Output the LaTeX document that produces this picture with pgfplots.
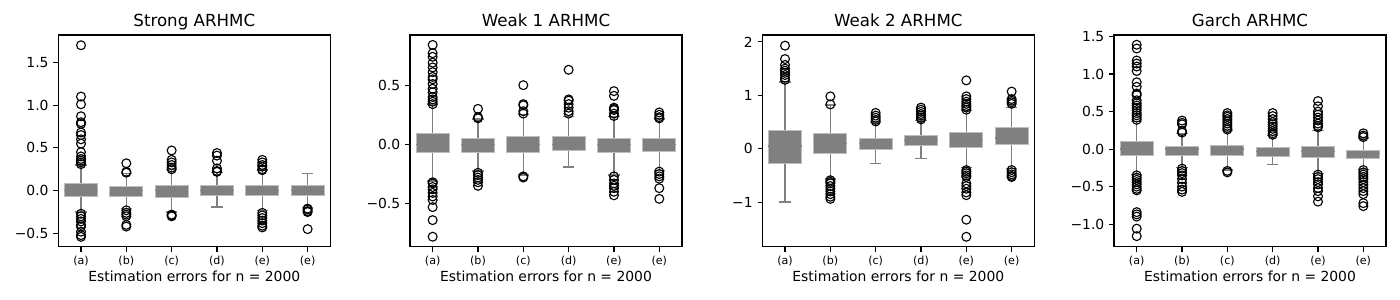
\documentclass[border=0pt]{standalone}
\usepackage{fontspec}
\setmainfont{DejaVu Sans}
\usepackage{pgfplots}
\pgfplotsset{compat=1.18}
\usepgfplotslibrary{statistics}
\definecolor{bxgray}{HTML}{808080}
\definecolor{bxedge}{HTML}{BDBDBD}
\pgfplotsset{
  panel/.style={
    scale only axis, width=195.8pt, height=152.4pt,
    anchor=south west,
    xmin=-0.5, xmax=5.5,
    xtick={0,1,2,3,4,5},
    xticklabels={(a),(b),(c),(d),(e),(e)},
    xtick pos=bottom, ytick pos=left,
    tick align=outside, major tick length=3.5pt,
    tick style={black, line width=0.8pt},
    axis line style={black, line width=0.8pt},
    xticklabel style={font=\fontsize{8}{9}\selectfont},
    yticklabel style={font=\fontsize{10}{12}\selectfont},
    title style={font=\fontsize{12}{14}\selectfont, at={(0.5,1)}, anchor=base, yshift=0pt},
    xlabel style={font=\fontsize{10}{12}\selectfont, at={(axis description cs:0.5,0)}, anchor=base, yshift=-25.2pt},
    xlabel={Estimation errors for n = 2000},
    boxplot/draw direction=y,
    boxplot/box extend=0.73,
    boxplot/whisker extend=0.25,
    clip=false,
  },
  bx/.style={fill=bxgray, draw=bxedge, line width=0.6pt,
    boxplot/every whisker/.style={draw=bxgray, line width=1pt},
    boxplot/every median/.style={draw=bxgray, line width=1pt},
    mark=none},
  out/.style={only marks, mark=o, mark size=3.2pt, mark options={draw=black, line width=0.8pt, fill=none}},
}
\newcommand{\bx}[6]{\addplot[bx, boxplot prepared={draw position=#1, lower whisker=#2, lower quartile=#3, median=#4, upper quartile=#5, upper whisker=#6}] coordinates {};}
\begin{document}
\begin{tikzpicture}
\path[use as bounding box] (0,0) rectangle (1008pt,216pt);
% ---------------- Panel 1
\begin{axis}[panel, at={(42pt,38.4pt)}, title={Strong ARHMC},
  ymin=-0.655, ymax=1.82,
  ytick={-0.5,0,0.5,1,1.5}, yticklabels={−0.5,0.0,0.5,1.0,1.5}]
\bx{0}{-0.25}{-0.063}{0}{0.082}{0.30}
\bx{1}{-0.21}{-0.062}{0}{0.047}{0.20}
\bx{2}{-0.25}{-0.075}{0}{0.06}{0.245}
\bx{3}{-0.19}{-0.05}{0}{0.06}{0.21}
\bx{4}{-0.23}{-0.06}{0}{0.06}{0.24}
\bx{5}{-0.20}{-0.05}{0}{0.06}{0.20}
\addplot[out] coordinates {
(0,1.70) (0,1.10) (0,1.01) (0,0.87) (0,0.80) (0,0.78) (0,0.68) (0,0.65) (0,0.60) (0,0.55)
(0,0.45) (0,0.40) (0,0.37) (0,0.35) (0,0.33) (0,0.31)
(0,-0.27) (0,-0.30) (0,-0.33) (0,-0.36) (0,-0.40) (0,-0.42) (0,-0.48) (0,-0.52) (0,-0.54)
(1,0.32) (1,0.22) (1,0.21) (1,-0.23) (1,-0.26) (1,-0.28) (1,-0.30) (1,-0.40) (1,-0.42)
(2,0.47) (2,0.36) (2,0.33) (2,0.30) (2,0.27) (2,0.25) (2,-0.28) (2,-0.29) (2,-0.30)
(3,0.44) (3,0.41) (3,0.35) (3,0.26) (3,0.23) (3,0.22)
(4,0.36) (4,0.33) (4,0.30) (4,0.28) (4,0.25) (4,0.24)
(4,-0.26) (4,-0.29) (4,-0.32) (4,-0.35) (4,-0.38) (4,-0.41) (4,-0.43)
(5,-0.21) (5,-0.22) (5,-0.24) (5,-0.25) (5,-0.45)
};
\end{axis}
% ---------------- Panel 2
\begin{axis}[panel, at={(295.2pt,38.4pt)}, title={Weak 1 ARHMC},
  ymin=-0.864, ymax=0.924,
  ytick={-0.5,0,0.5}, yticklabels={−0.5,0.0,0.5}]
\bx{0}{-0.31}{-0.071}{0}{0.093}{0.34}
\bx{1}{-0.226}{-0.071}{0}{0.054}{0.215}
\bx{2}{-0.26}{-0.071}{0}{0.065}{0.254}
\bx{3}{-0.192}{-0.054}{0}{0.065}{0.237}
\bx{4}{-0.26}{-0.071}{0}{0.054}{0.237}
\bx{5}{-0.22}{-0.062}{0}{0.054}{0.215}
\addplot[out] coordinates {
(0,0.84) (0,0.77) (0,0.74) (0,0.69) (0,0.65) (0,0.61) (0,0.57) (0,0.55) (0,0.51) (0,0.47)
(0,0.44) (0,0.40) (0,0.38) (0,0.36) (0,0.34)
(0,-0.32) (0,-0.33) (0,-0.36) (0,-0.38) (0,-0.41) (0,-0.44) (0,-0.47) (0,-0.53) (0,-0.64) (0,-0.78)
(1,0.30) (1,0.23) (1,0.22) (1,-0.24) (1,-0.26) (1,-0.28) (1,-0.30) (1,-0.32) (1,-0.35)
(2,0.50) (2,0.34) (2,0.33) (2,0.28) (2,0.26) (2,-0.27) (2,-0.28)
(3,0.63) (3,0.38) (3,0.37) (3,0.34) (3,0.31) (3,0.28) (3,0.26)
(4,0.45) (4,0.41) (4,0.31) (4,0.30) (4,0.29) (4,0.26) (4,0.24)
(4,-0.27) (4,-0.30) (4,-0.33) (4,-0.35) (4,-0.37) (4,-0.40) (4,-0.43)
(5,0.27) (5,0.25) (5,0.23) (5,0.22)
(5,-0.23) (5,-0.25) (5,-0.27) (5,-0.29) (5,-0.37) (5,-0.46)
};
\end{axis}
% ---------------- Panel 3
\begin{axis}[panel, at={(548.9pt,38.4pt)}, title={Weak 2 ARHMC},
  ymin=-1.835, ymax=2.13,
  ytick={-1,0,1,2}, yticklabels={−1,0,1,2}]
\bx{0}{-1.0}{-0.27}{0.05}{0.35}{1.25}
\bx{1}{-0.57}{-0.08}{0.1}{0.295}{0.82}
\bx{2}{-0.28}{-0.02}{0.1}{0.20}{0.49}
\bx{3}{-0.18}{0.057}{0.15}{0.257}{0.53}
\bx{4}{-0.35}{0.02}{0.15}{0.31}{0.71}
\bx{5}{-0.37}{0.075}{0.2}{0.395}{0.77}
\addplot[out] coordinates {
(0,1.93) (0,1.68) (0,1.57) (0,1.50) (0,1.46) (0,1.42) (0,1.38) (0,1.33) (0,1.29)
(1,0.98) (1,0.83) (1,-0.59) (1,-0.62) (1,-0.65) (1,-0.70) (1,-0.75) (1,-0.80) (1,-0.85) (1,-0.90) (1,-0.94)
(2,0.67) (2,0.62) (2,0.58) (2,0.54) (2,0.51)
(3,0.77) (3,0.73) (3,0.69) (3,0.65) (3,0.62) (3,0.58) (3,0.55)
(4,1.28) (4,0.98) (4,0.93) (4,0.88) (4,0.84) (4,0.80) (4,0.77) (4,0.73)
(4,-0.40) (4,-0.43) (4,-0.46) (4,-0.50) (4,-0.53) (4,-0.65) (4,-0.70) (4,-0.75) (4,-0.82) (4,-0.87) (4,-1.33) (4,-1.65)
(5,1.07) (5,0.93) (5,0.90) (5,0.87) (5,0.84)
(5,-0.40) (5,-0.44) (5,-0.48) (5,-0.51) (5,-0.53)
};
\end{axis}
% ---------------- Panel 4
\begin{axis}[panel, at={(802.1pt,38.4pt)}, title={Garch ARHMC},
  ymin=-1.30, ymax=1.52,
  ytick={-1,-0.5,0,0.5,1,1.5}, yticklabels={−1.0,−0.5,0.0,0.5,1.0,1.5}]
\bx{0}{-0.335}{-0.085}{0}{0.10}{0.37}
\bx{1}{-0.245}{-0.08}{0}{0.04}{0.21}
\bx{2}{-0.28}{-0.085}{0}{0.054}{0.25}
\bx{3}{-0.205}{-0.098}{-0.03}{0.027}{0.18}
\bx{4}{-0.325}{-0.11}{-0.03}{0.04}{0.25}
\bx{5}{-0.27}{-0.125}{-0.06}{-0.013}{0.147}
\addplot[out] coordinates {
(0,1.39) (0,1.34) (0,1.18) (0,1.14) (0,1.10) (0,1.04) (0,0.89) (0,0.83) (0,0.74) (0,0.72)
(0,0.65) (0,0.61) (0,0.58) (0,0.55) (0,0.52) (0,0.48) (0,0.45) (0,0.42) (0,0.39)
(0,-0.35) (0,-0.38) (0,-0.41) (0,-0.44) (0,-0.47) (0,-0.50) (0,-0.53) (0,-0.55) (0,-0.84) (0,-0.87) (0,-0.90) (0,-1.06) (0,-1.16)
(1,0.38) (1,0.35) (1,0.33) (1,0.24) (1,0.22)
(1,-0.26) (1,-0.29) (1,-0.32) (1,-0.35) (1,-0.40) (1,-0.45) (1,-0.50) (1,-0.54) (1,-0.57)
(2,0.48) (2,0.45) (2,0.43) (2,0.40) (2,0.37) (2,0.34) (2,0.31) (2,0.28) (2,0.26) (2,-0.29) (2,-0.31)
(3,0.48) (3,0.44) (3,0.40) (3,0.36) (3,0.33) (3,0.30) (3,0.27) (3,0.24) (3,0.21) (3,0.19)
(4,0.64) (4,0.57) (4,0.50) (4,0.46) (4,0.42) (4,0.38) (4,0.34) (4,0.31) (4,0.29)
(4,-0.34) (4,-0.37) (4,-0.40) (4,-0.44) (4,-0.47) (4,-0.52) (4,-0.56) (4,-0.63) (4,-0.70)
(5,0.21) (5,0.18) (5,0.16)
(5,-0.28) (5,-0.31) (5,-0.34) (5,-0.37) (5,-0.40) (5,-0.44) (5,-0.48) (5,-0.52) (5,-0.56) (5,-0.60) (5,-0.72) (5,-0.76)
};
\end{axis}
\end{tikzpicture}
\end{document}
